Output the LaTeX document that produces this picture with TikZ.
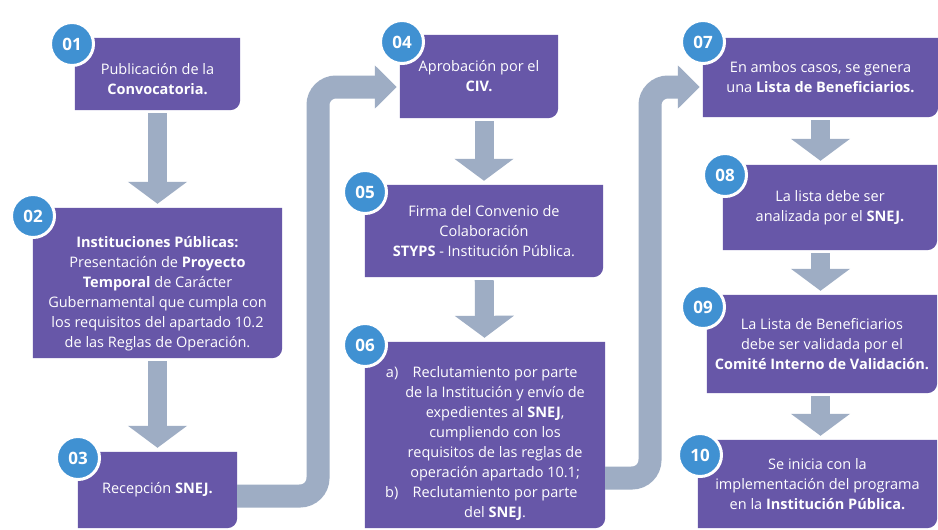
\documentclass[tikz,border=0pt]{standalone}
\usepackage{fontspec}
\setmainfont{Open Sans}
\usetikzlibrary{arrows.meta}
\usetikzlibrary{backgrounds}
\definecolor{boxpurple}{RGB}{103,87,168}
\definecolor{arrowgray}{RGB}{158,173,196}
\definecolor{numblue}{RGB}{64,145,210}
\newcommand{\pushdown}[1]{\rule{0pt}{#1}}
\tikzset{
  stepbox/.style={text=white,align=center,inner sep=0pt,font=\fontsize{14.5pt}{20pt}\selectfont},
  numdot/.style={circle,fill=numblue,draw=white,line width=3pt,minimum size=43pt,inner sep=0pt,
    text=white,font=\fontsize{17pt}{17pt}\selectfont\bfseries},
  downarr/.style={arrowgray,line width=19pt,-{Triangle[width=58pt,length=22pt]},shorten <=3pt,shorten >=4pt},
  bigarr/.style={arrowgray,line width=23pt,rounded corners=18pt,-{Triangle[width=42pt,length=22pt]},shorten >=3pt},
}

\begin{document}
\begin{tikzpicture}[x=1pt,y=-1pt]
  \useasboundingbox (0,0) rectangle (938,530);
  % steps
  \node[stepbox,minimum width=165pt,minimum height=72pt] (b1) at (157.5,74)
    {\pushdown{21pt}Publicación de la\\ \textbf{Convocatoria.}};
  \node[stepbox,minimum width=249pt,minimum height=150pt] (b2) at (157.5,283)
    {\pushdown{33pt}\textbf{Instituciones Públicas:}\\ Presentación de \textbf{Proyecto}\\ \textbf{Temporal} de Carácter\\
     Gubernamental que cumpla con\\ los requisitos del apartado 10.2\\ de las Reglas de Operación.};
  \node[stepbox,minimum width=159pt,minimum height=76pt] (b3) at (157.5,490)
    {Recepción \textbf{SNEJ.}};
  \node[stepbox,minimum width=158pt,minimum height=83pt] (b4) at (479,76.5)
    {Aprobación por el\\ \textbf{CIV.}};
  \node[stepbox,minimum width=238pt,minimum height=92pt] (b5) at (484,231)
    {Firma del Convenio de\\ Colaboración\\ \textbf{STYPS} - Institución Pública.};
  \node[stepbox,minimum width=240pt,minimum height=186pt] (b6) at (485,435)
    {\begin{tabular}{@{}r@{\hspace{7pt}}c@{}}
      \pushdown{31pt}a) & Reclutamiento por parte\\
         & de la Institución y envío de\\
         & expedientes al \textbf{SNEJ},\\
         & cumpliendo con los\\
         & requisitos de las reglas de\\
         & operación apartado 10.1;\\
      b) & Reclutamiento por parte\\
         & del \textbf{SNEJ}.
     \end{tabular}};
  \node[stepbox,minimum width=235pt,minimum height=79pt] (b7) at (820.5,77.5)
    {En ambos casos, se genera\\ una \textbf{Lista de Beneficiarios.}};
  \node[stepbox,minimum width=214pt,minimum height=85pt] (b8) at (830,207.5)
    {La lista debe ser\\ analizada por el \textbf{SNEJ.}};
  \node[stepbox,minimum width=230pt,minimum height=98pt] (b9) at (822,344)
    {La Lista de Beneficiarios\\ debe ser validada por el\\ \textbf{Comité Interno de Validación.}};
  \node[stepbox,minimum width=239pt,minimum height=88pt] (b10) at (817.5,484)
    {Se inicia con la\\ implementación del programa\\ en la \textbf{Institución Pública.}};
  \begin{scope}[on background layer]
    \fill[white] (0,0) rectangle (938,530);
    \foreach \n in {1,...,10}
      \fill[boxpurple] (b\n.north west) -- (b\n.north east) -- ([yshift=10pt]b\n.south east)
        arc[start angle=0,end angle=-90,radius=10pt] -- (b\n.south west) -- cycle;
  \end{scope}
  % numbers
  \node[numdot] (c1) at (72,44) {01};
  \node[numdot] (c2) at (33,216) {02};
  \node[numdot] (c3) at (78,458) {03};
  \node[numdot] (c4) at (402,42) {04};
  \node[numdot] (c5) at (365,192) {05};
  \node[numdot] (c6) at (365,345) {06};
  \node[numdot] (c7) at (703,42) {07};
  \node[numdot] (c8) at (725,175) {08};
  \node[numdot] (c9) at (703,307) {09};
  \node[numdot] (c10) at (700,455) {10};
  % arrows
  \draw[downarr] (b1) -- (b2);
  \draw[downarr] (b2) -- (b3);
  \draw[downarr] (b4.south -| b5) -- (b5);
  \draw[downarr] (b5) -- (b6);
  \draw[downarr] (b7) -- (b7 |- b8.north);
  \draw[downarr] (b8.south -| b7) -- (b7 |- b9.north);
  \draw[downarr] (b9.south -| b7) -- (b7 |- b10.north);
  \coordinate (k1) at (318,496);
  \coordinate (k2) at (318,87);
  \draw[bigarr] (b3.east |- k1) -- (k1) -- (k2) -- (k2 -| b4.west);
  \coordinate (k3) at (650,478);
  \coordinate (k4) at (650,87);
  \draw[bigarr] (b6.east |- k3) -- (k3) -- (k4) -- (k4 -| b7.west);
\end{tikzpicture}
\end{document}
